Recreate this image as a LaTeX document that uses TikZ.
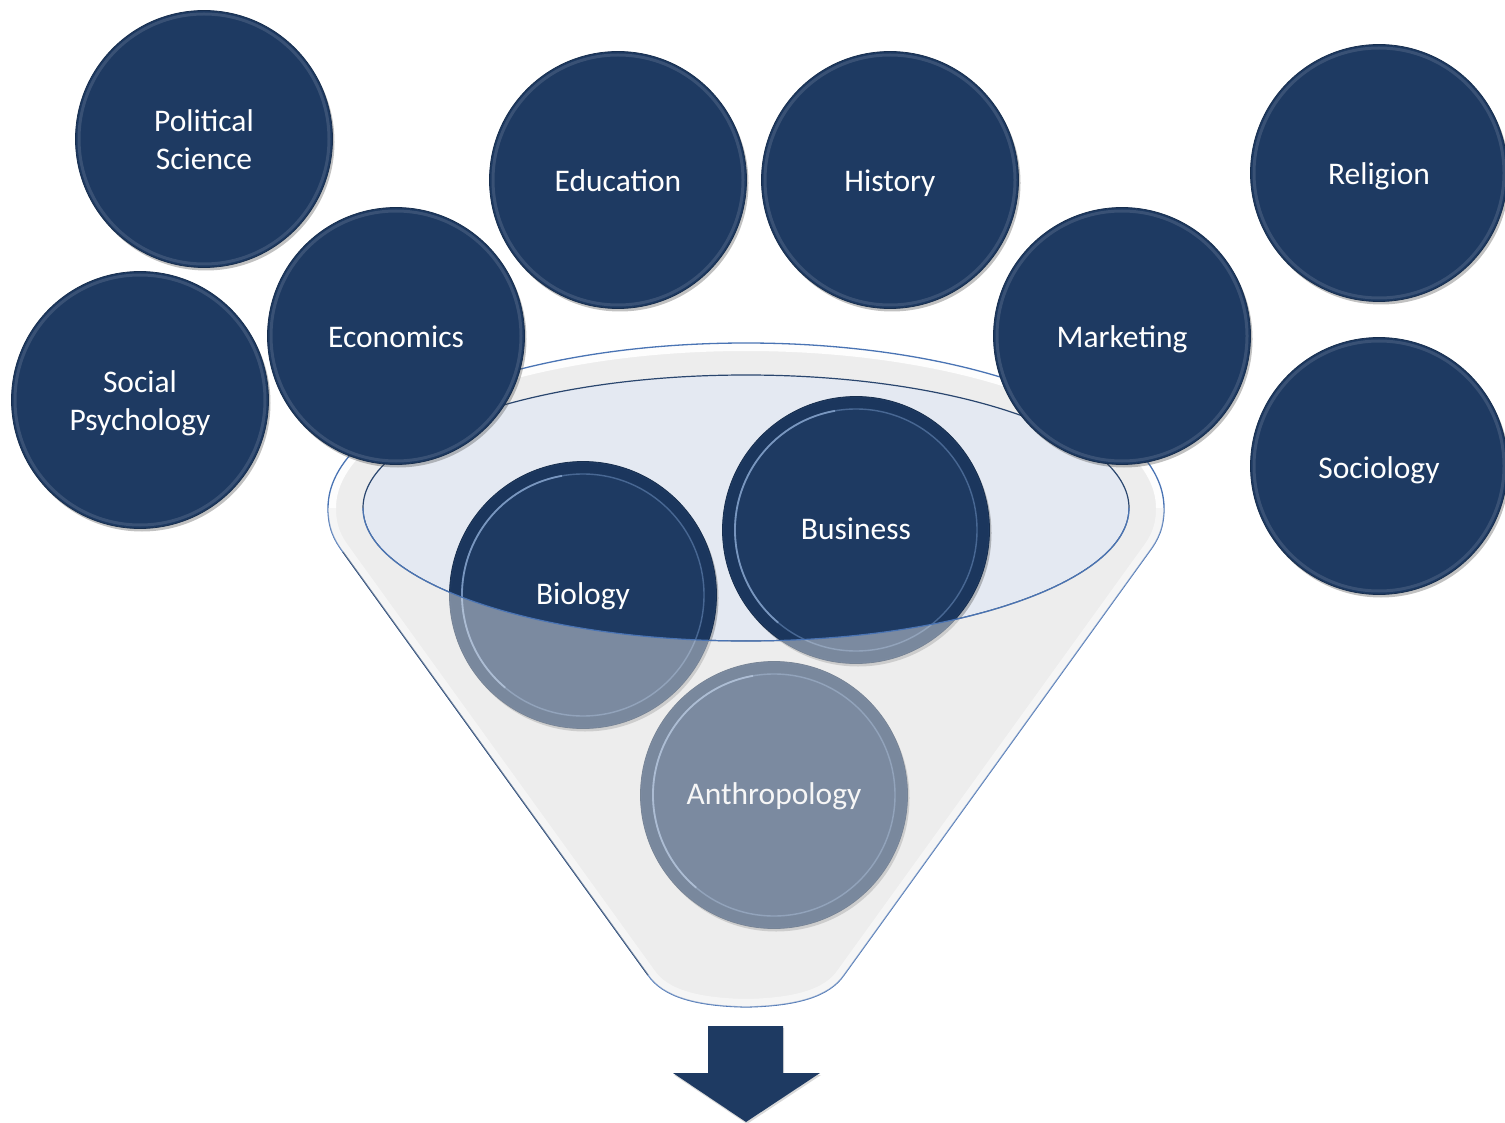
\documentclass[tikz,border=0pt]{standalone}
\usepackage{fontspec}
\setmainfont{Carlito}
\usetikzlibrary{shadows}
\definecolor{navy}{HTML}{1E3A62}
\definecolor{navyedge}{HTML}{172E4E}
\definecolor{funnelbody}{HTML}{EDEDED}
\definecolor{innerfill}{HTML}{E4E9F2}
\definecolor{outline}{HTML}{4A74B4}
\definecolor{darkline}{HTML}{2A466E}
\definecolor{ringblue}{HTML}{5A7BA8}
\definecolor{ringlight}{HTML}{86A3CC}
\definecolor{banddark}{HTML}{1A3459}
\newcommand{\discfont}{\fontsize{31.5}{38}\selectfont}
\tikzset{
  disc/.style={circle, minimum size=257pt, inner sep=0pt, fill=navy, draw=navyedge,
    line width=0.8pt, text=white, font=\discfont, align=center,
    drop shadow={shadow xshift=2pt, shadow yshift=-3pt, opacity=0.35, fill=black!70}},
  oneline/.style={text height=24pt, text depth=0pt},
  bigdisc/.style={disc, text height=18pt, text depth=0pt, minimum size=267pt},
  bevel/.style={draw=white, opacity=0.12, line width=3pt},
  band/.style={draw=banddark, line width=10pt, opacity=0.5},
  innerring/.style={draw=ringblue, line width=1.4pt, opacity=0.7},
  ringhighlight/.style={draw=ringlight, line width=1.8pt, opacity=0.8},
  funnelline/.style={draw=outline, line width=1.3pt},
}
\begin{document}
\begin{tikzpicture}[x=1pt,y=-1pt]
\useasboundingbox (0,0) rectangle (1505,1123);
\clip (0,0) rectangle (1505,1123);
\def\funnelpath{(328,508) arc[start angle=180, end angle=360, x radius=418, y radius=165]
  .. controls (1164,528) and (1158,540) .. (1149,552)
  -- (844,975) .. controls (829,997) and (796,1006) .. (746,1007)
  .. controls (696,1006) and (663,997) .. (648,975)
  -- (343,552) .. controls (334,540) and (328,528) .. (328,508) -- cycle}
% funnel back
\fill[funnelbody] \funnelpath;
\begin{scope}
  \clip \funnelpath;
  \draw[white, line width=16pt, opacity=0.9] \funnelpath;
\end{scope}
% outline: left side darker
\draw[funnelline] \funnelpath;
\draw[darkline, line width=1.3pt] (343,552) -- (648,975);
% inner ellipse
\fill[innerfill] (746,508) ellipse[x radius=383, y radius=133];
\draw[darkline, line width=1.2pt] (746,508) ellipse[x radius=383, y radius=133];
% discs inside the funnel
\node[bigdisc] (biology) at (583,595) {Biology};
\node[bigdisc] (business) at (856,530) {Business};
\node[bigdisc] (anthro) at (774,795) {Anthropology};
\foreach \n in {biology,business,anthro}{
  \draw[band] (\n.center) circle (127pt);
  \draw[innerring] (\n.center) circle (121pt);
  \draw[ringhighlight] (\n.center) ++(100:121pt) arc[start angle=100, end angle=230, radius=121pt];
}
% translucent front of funnel
\begin{scope}
  \clip \funnelpath;
  \fill[funnelbody, opacity=0.45] (363,508) arc[start angle=180, end angle=0, x radius=383, y radius=133]
     -- (1250,508) -- (1250,1100) -- (250,1100) -- (250,508) -- cycle;
\end{scope}
\draw[outline, line width=1.2pt] (363,508) arc[start angle=180, end angle=0, x radius=383, y radius=133];
% outer discs
\node[disc] (polsci) at (204,139) {\rule{0pt}{24pt}Political\\Science};
\node[disc] (socpsy) at (140,400) {\rule{0pt}{29pt}Social\\Psychology};
\node[disc, oneline] (econ) at (396,336) {Economics};
\node[disc, oneline] (edu) at (618,180) {Education};
\node[disc, oneline] (hist) at (890,180) {History};
\node[disc, oneline] (mkt) at (1122,336) {Marketing};
\node[disc, oneline] (rel) at (1379,173) {Religion};
\node[disc, oneline] (soc) at (1379,466) {Sociology};
\foreach \n in {polsci,socpsy,econ,edu,hist,mkt,rel,soc}{
  \draw[bevel] (\n.center) circle (125pt);
}
% arrow
\fill[navy, drop shadow={shadow xshift=1pt, shadow yshift=-2pt, opacity=0.25, fill=black!60}]
  (708,1026) -- (783,1026) -- (783,1073) -- (820,1073) -- (746,1122) -- (673,1073) -- (708,1073) -- cycle;
\end{tikzpicture}
\end{document}
